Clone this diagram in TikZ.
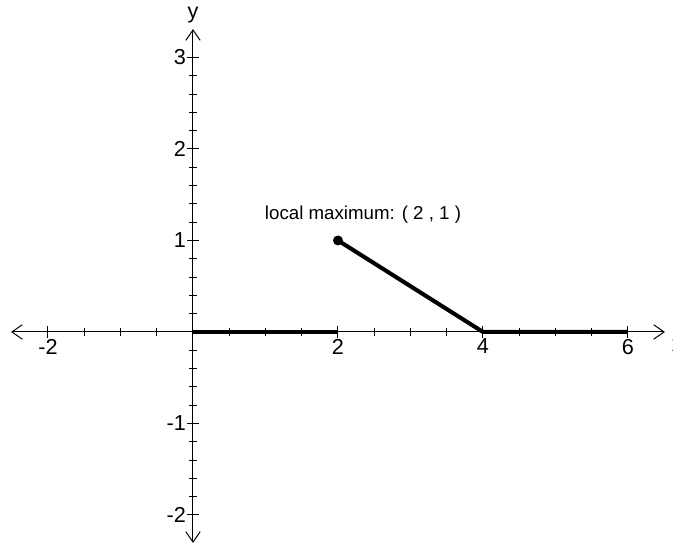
\documentclass[tikz,border=0pt]{standalone}
\usepackage{fontspec}
\setmainfont{Liberation Sans}
\usetikzlibrary{arrows.meta,positioning}
\definecolor{PlotInk}{HTML}{000000}

\tikzset{
  axisline/.style={PlotInk,line width=0.7pt,
    {Straight Barb[length=2.6mm,width=3.6mm]}-{Straight Barb[length=2.6mm,width=3.6mm]}},
  graphline/.style={PlotInk,line width=2.9pt},
  ticklbl/.style={font=\fontsize{15.4}{17}\selectfont,text=PlotInk,inner sep=0pt},
  notelbl/.style={font=\fontsize{13.3}{15}\selectfont,text=PlotInk,inner sep=0pt},
}

\begin{document}
\begin{tikzpicture}[x=1.8125cm,y=2.2875cm]
    \useasboundingbox (-2.662,-2.339) rectangle (6.621,3.628);
    \clip (-2.662,-2.339) rectangle (6.621,3.628);
    % axes
    \draw[axisline] (-2.51,0) -- (6.51,0);
    \draw[axisline] (0,-2.306) -- (0,3.31);
    \node[ticklbl,anchor=base] (ylbl) at (0,3.43) {y};
    \node[ticklbl,anchor=west] (xlbl) at (6.6,-0.15) {x};
    % x ticks, every 0.5
    \foreach \x in {-1.5,-1,-0.5,0.5,1,1.5,2.5,3,3.5,4.5,5,5.5}{
      \draw[PlotInk,line width=0.7pt] (\x,0.04) -- (\x,-0.04);
    }
    \foreach \x/\lbl in {-2/-2,2/2,4/4,6/6}{
      \draw[PlotInk,line width=0.7pt] (\x,0.065) -- (\x,-0.065);
      \node[ticklbl,anchor=north] (xt\x) at (\x,-0.075) {\lbl};
    }
    % y ticks, every 0.2
    \foreach \y in {-1.8,-1.6,...,-1.1,-0.8,-0.6,...,-0.1,0.2,0.4,...,0.9,1.2,1.4,...,1.9,2.2,2.4,...,2.9}{
      \draw[PlotInk,line width=0.7pt] (-0.055,\y) -- (0.055,\y);
    }
    \foreach \y/\lbl in {-2/-2,-1/-1,1/1,2/2,3/3}{
      \draw[PlotInk,line width=0.7pt] (-0.085,\y) -- (0.085,\y);
      \node[ticklbl,anchor=east] (yt\lbl) at (-0.095,\y) {\lbl};
    }
    % graph
    \coordinate (p0) at (0,0);
    \coordinate (p1) at (2,0);
    \coordinate (pmax) at (2,1);
    \coordinate (p2) at (4,0);
    \coordinate (p3) at (6,0);
    \draw[graphline] (p0) -- (p1);
    \draw[graphline] (pmax) -- (p2) -- (p3);
    \fill[PlotInk] (pmax) circle (0.125cm);
    \node[notelbl] (maxlbl) at (2.345,1.28) {local maximum: ( 2 , 1 )};
\end{tikzpicture}
\end{document}
